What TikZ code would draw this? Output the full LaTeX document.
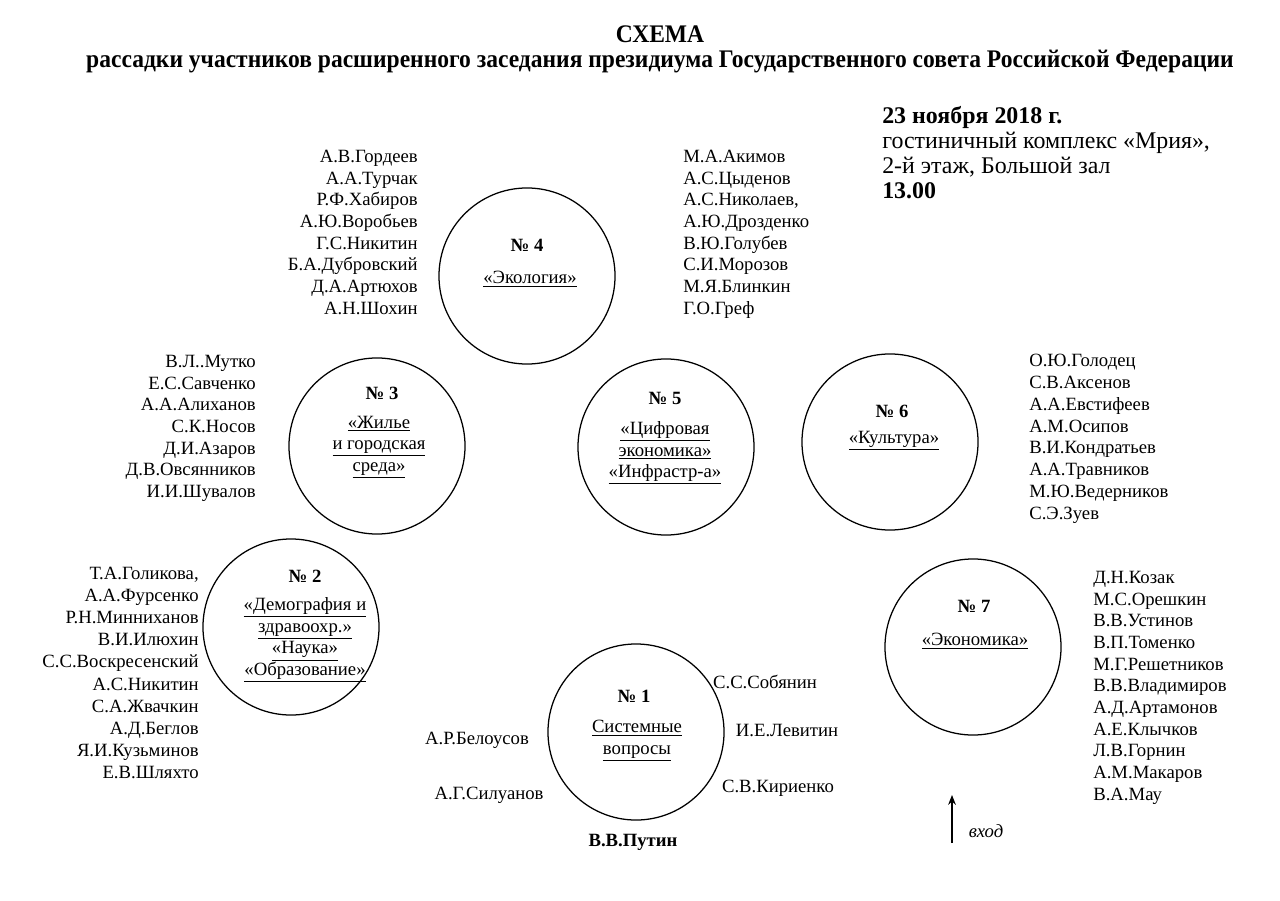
\documentclass[tikz,border=0pt]{standalone}
\usepackage{fontspec}
\setmainfont{Liberation Serif}
\newfontfamily\headfont[FakeStretch=0.93]{Liberation Serif}
\usetikzlibrary{arrows.meta}

% underlined topic line
\newcommand{\ulpart}[1]{\underline{#1}}

\begin{document}
\begin{tikzpicture}[x=0.025cm, y=-0.025cm]

\tikzset{
  table/.style={
    draw,
    circle,
    line width=0.9pt,
    minimum size=4.4cm,
    inner sep=0pt,
  },
  table num/.style={font=\fontsize{13.3}{15.4}\selectfont\bfseries, inner sep=0pt},
  topic/.style={font=\fontsize{13.3}{15.4}\selectfont, align=center, inner sep=0pt},
  person/.style={font=\fontsize{13.3}{15.4}\selectfont, inner sep=0pt},
  heading/.style={font=\headfont\fontsize{18}{20}\selectfont\bfseries, inner sep=0pt, anchor=base},
  info/.style={font=\fontsize{17}{17.8}\selectfont, align=left, inner sep=0pt},
}

\useasboundingbox (0,0) rectangle (1280,900);

% Heading
\node[heading] (title) at (660,43) {СХЕМА};
\node[heading] (subtitle) at (660,67) {рассадки участников расширенного заседания президиума Государственного совета Российской Федерации};

% Date and place
\node[info, anchor=north west] (info) at (882,106)
  {\textbf{23 ноября 2018 г.}\\гостиничный комплекс «Мрия»,\\2-й этаж, Большой зал\\\textbf{13.00}};

% Table 1
\node[table] (t1) at (636,732) {};
\node[table num] (n1) at (634,696) {№ 1};
\node[topic] (s1) at (637,741) {\ulpart{Системные}\\\ulpart{вопросы}};
\node[person] (belousov) at (477,740) {А.Р.Белоусов};
\node[person] (siluanov) at (489,795) {А.Г.Силуанов};
\node[person] (sobyanin) at (765,682) {С.С.Собянин};
\node[person] (levitin) at (787,730) {И.Е.Левитин};
\node[person] (kirienko) at (778,788) {С.В.Кириенко};
\node[person, font=\fontsize{13.3}{15.4}\selectfont\bfseries] (putin) at (633,842) {В.В.Путин};

% Table 2
\node[table] (t2) at (291,627) {};
\node[table num] (n2) at (305,576) {№ 2};
\node[topic] (s2) at (305,640)
  {\ulpart{«Демография и}\\\ulpart{здравоохр.»}\\\ulpart{«Наука»}\\\ulpart{«Образование»}};
\node[person, align=right, anchor=north east, font=\fontsize{13.3}{15.7}\selectfont] (p2) at (199,567)
  {Т.А.Голикова,\\А.А.Фурсенко\\Р.Н.Минниханов\\В.И.Илюхин\\С.С.Воскресенский\\А.С.Никитин\\С.А.Жвачкин\\А.Д.Беглов\\Я.И.Кузьминов\\Е.В.Шляхто};

% Table 3
\node[table] (t3) at (377,446) {};
\node[table num] (n3) at (382,393) {№ 3};
\node[topic] (s3) at (379,447)
  {\ulpart{«Жилье}\\\ulpart{и городская}\\\ulpart{среда»}};
\node[person, align=right, anchor=north east] (p3) at (256,355)
  {В.Л..Мутко\\Е.С.Савченко\\А.А.Алиханов\\С.К.Носов\\Д.И.Азаров\\Д.В.Овсянников\\И.И.Шувалов};

% Table 4
\node[table] (t4) at (527,276) {};
\node[table num] (n4) at (527,245) {№ 4};
\node[topic] (s4) at (530,279) {\underline{«Экология»}};
\node[person, align=right, anchor=north east] (p4a) at (418,150)
  {А.В.Гордеев\\А.А.Турчак\\Р.Ф.Хабиров\\А.Ю.Воробьев\\Г.С.Никитин\\Б.А.Дубровский\\Д.А.Артюхов\\А.Н.Шохин};
\node[person, align=left, anchor=north west] (p4b) at (683,150)
  {М.А.Акимов\\А.С.Цыденов\\А.С.Николаев,\\А.Ю.Дрозденко\\В.Ю.Голубев\\С.И.Морозов\\М.Я.Блинкин\\Г.О.Греф};

% Table 5
\node[table] (t5) at (666,447) {};
\node[table num] (n5) at (665,398) {№ 5};
\node[topic] (s5) at (665,453)
  {\ulpart{«Цифровая}\\\ulpart{экономика»}\\\ulpart{«Инфрастр-а»}};

% Table 6
\node[table] (t6) at (890,442) {};
\node[table num] (n6) at (892,411) {№ 6};
\node[topic] (s6) at (894,441) {\ulpart{«Культура»}};
\node[person, align=left, anchor=north west, font=\fontsize{13.3}{15.5}\selectfont] (p6) at (1029,354)
  {О.Ю.Голодец\\С.В.Аксенов\\А.А.Евстифеев\\А.М.Осипов\\В.И.Кондратьев\\А.А.Травников\\М.Ю.Ведерников\\С.Э.Зуев};

% Table 7
\node[table] (t7) at (973,647) {};
\node[table num] (n7) at (974,606) {№ 7};
\node[topic] (s7) at (975,641) {\ulpart{«Экономика»}};
\node[person, align=left, anchor=north west] (p7) at (1093,571)
  {Д.Н.Козак\\М.С.Орешкин\\В.В.Устинов\\В.П.Томенко\\М.Г.Решетников\\В.В.Владимиров\\А.Д.Артамонов\\А.Е.Клычков\\Л.В.Горнин\\А.М.Макаров\\В.А.Мау};

% Entrance
\coordinate (door) at (952,843);
\coordinate (doorend) at (952,795);
\draw[-{Stealth[length=7pt,width=5.5pt]}, line width=1pt] (door) -- (doorend);
\node[person, font=\fontsize{13.3}{15.4}\selectfont\itshape] (entry) at (986,831) {вход};

\end{tikzpicture}
\end{document}
